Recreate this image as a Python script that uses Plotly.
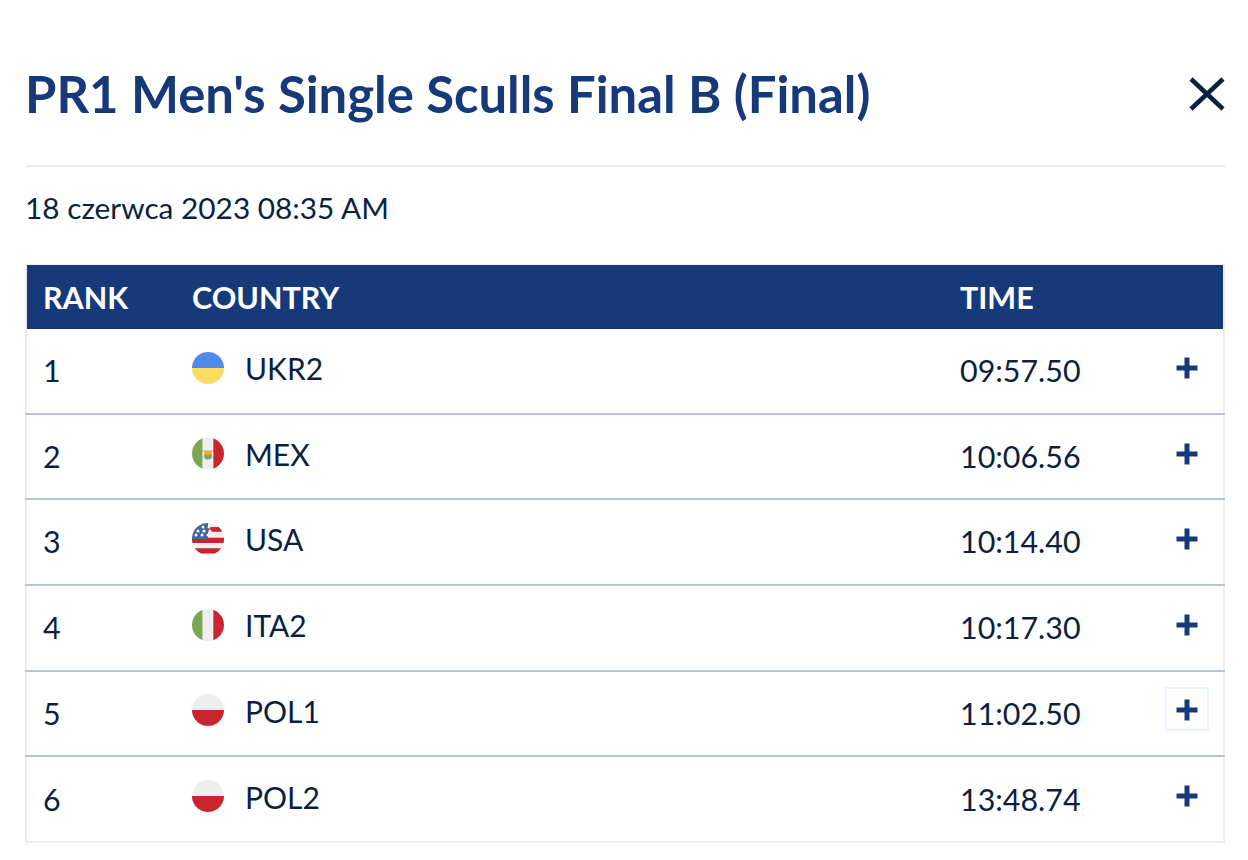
import numpy as np
import plotly.graph_objects as go

TITLE = "PR1 Men's Single Sculls Final B (Final)"
DATE = "18 czerwca 2023 08:35 AM"
HEADERS = ["RANK", "COUNTRY", "TIME"]
ranks = ["1", "2", "3", "4", "5", "6"]
countries = ["UKR2", "MEX", "USA", "ITA2", "POL1", "POL2"]
times = ["09:57.50", "10:06.56", "10:14.40", "10:17.30", "11:02.50", "13:48.74"]

NAVY = "#16397a"
INK = "#0b1f42"
RED = "#c9252f"
PALE = "#eeeeee"
GREEN = "#7ba653"
BLUE = "#4f8aea"
YELLOW = "#fbdc63"

W, H = 1248, 860
row_bottoms = [414, 499, 585, 671, 756, 841]
flag_ys = [368, 453.5, 539, 625, 710, 796]
text_ys = [374, 460, 545, 631, 717, 803]
country_ys = [372, 458, 543, 629, 715, 801]
plus_ys = [368, 454, 539, 625, 710, 796]
FX, FR = 208, 16


def poly(xs, ys):
    return "M" + "L".join(f"{a:.2f},{b:.2f}" for a, b in zip(xs, ys)) + "Z"


def hband(cy, a, b, x_max=None):
    """Part of the flag disc between relative heights a and b (-1..1)."""
    t = np.linspace(a, b, 30)
    half = np.sqrt(np.clip(1 - t ** 2, 0, 1)) * FR
    left = FX - half
    right = FX + half
    if x_max is not None:
        right = np.minimum(right, x_max)
    xs = np.concatenate([left, right[::-1]])
    ys = np.concatenate([cy + t * FR, cy + t[::-1] * FR])
    return poly(xs, ys)


def vband(cy, a, b):
    t = np.linspace(a, b, 30)
    half = np.sqrt(np.clip(1 - t ** 2, 0, 1)) * FR
    xs = np.concatenate([FX + t * FR, FX + t[::-1] * FR])
    ys = np.concatenate([cy - half, cy + half[::-1]])
    return poly(xs, ys)


def fill(path, color):
    return dict(type="path", path=path, fillcolor=color, line_width=0, layer="below")


def flag(code, cy):
    out = []
    if code.startswith("UKR"):
        out += [fill(hband(cy, -1, 0), BLUE), fill(hband(cy, 0, 1), YELLOW)]
    elif code.startswith("POL"):
        out += [fill(hband(cy, -1, 0), PALE), fill(hband(cy, 0, 1), RED)]
    elif code.startswith("ITA") or code.startswith("MEX"):
        out += [fill(vband(cy, -1, -1 / 3), GREEN), fill(vband(cy, -1 / 3, 1 / 3), PALE), fill(vband(cy, 1 / 3, 1), RED)]
        if code.startswith("MEX"):
            out.append(dict(type="circle", x0=FX - 4, x1=FX + 4, y0=cy - 1, y1=cy + 6,
                            fillcolor=GREEN, line_width=0, layer="below"))
            out.append(fill(poly([FX - 5, FX + 5, FX + 3, FX, FX - 3], [cy - 3, cy - 3, cy + 1, cy + 2, cy + 1]), "#f0a63c"))
    elif code.startswith("USA"):
        out.append(fill(hband(cy, -1, 1), PALE))
        edges = [-0.75, -0.45, -0.08, 0.25, 0.58, 0.9]
        for i in range(0, 5, 2):
            out.append(fill(hband(cy, edges[i], edges[i + 1]), RED))
        out.append(fill(hband(cy, -1, 0.0, x_max=FX), "#41639f"))
    return out


shapes = [
    dict(type="line", x0=26, x1=1225, y0=166, y1=166, line=dict(color="#e6e9ef", width=2), layer="below"),
    dict(type="rect", x0=26, x1=1224, y0=265, y1=842, line=dict(color="#eeeeee", width=2), fillcolor="white", layer="below"),
    dict(type="rect", x0=27, x1=1223, y0=265, y1=329, line_width=0, fillcolor=NAVY, layer="below"),
    dict(type="line", x0=1191, x1=1223, y0=79, y1=109, line=dict(color=INK, width=4.5), layer="below"),
    dict(type="line", x0=1191, x1=1223, y0=109, y1=79, line=dict(color=INK, width=4.5), layer="below"),
    dict(type="rect", x0=1166, x1=1208, y0=688, y1=730, line=dict(color="#e8f3fb", width=2), fillcolor="rgba(0,0,0,0)", layer="below"),
]
for b in row_bottoms[:-1]:
    shapes.append(dict(type="line", x0=25, x1=1225, y0=b, y1=b, line=dict(color="#b8c4d9", width=2), layer="below"))
for code, cy in zip(countries, flag_ys):
    shapes += flag(code, cy)

star_x, star_y = [], []
ucy = flag_ys[countries.index("USA")]
for dy, offs in [(-12, (-4, 2)), (-8, (-9, -3, 3)), (-4, (-11, -5, 1)), ]:
    for dx in offs:
        star_x.append(FX + dx - 1)
        star_y.append(ucy + dy)

fig = go.Figure()


def add_text(xs, ys, labels, size, color, weight=400):
    fig.add_trace(go.Scatter(
        x=xs, y=ys, text=labels, mode="text", textposition="middle right",
        textfont=dict(family="Lato", size=size, color=color, weight=weight),
        hoverinfo="skip", cliponaxis=False, showlegend=False,
    ))


add_text([25], [212], [DATE], 29.8, INK)
add_text([43, 192, 960], [301] * 3, HEADERS, 30.5, "white", 700)
add_text([43] * 6, text_ys, ranks, 30.4, INK)
add_text([245] * 6, country_ys, countries, 30, INK)
add_text([960] * 6, text_ys, times, 30.4, INK)

fig.add_trace(go.Scatter(
    x=[1187] * 6, y=plus_ys, mode="markers",
    marker=dict(symbol="cross-thin", size=15, line=dict(color=NAVY, width=5)),
    hoverinfo="skip", showlegend=False,
))
fig.add_trace(go.Scatter(
    x=star_x, y=star_y, mode="markers",
    marker=dict(symbol="circle", size=3, color="white", line_width=0),
    hoverinfo="skip", showlegend=False,
))

fig.update_layout(
    width=W, height=H, margin=dict(l=0, r=0, t=0, b=0),
    paper_bgcolor="white", plot_bgcolor="white",
    title=dict(text=TITLE, x=25 / W, xanchor="left", y=1 - 95 / H, yanchor="middle",
               font=dict(family="Lato", size=50.8, color=NAVY, weight=700)),
    xaxis=dict(range=[0, W], visible=False, fixedrange=True),
    yaxis=dict(range=[H, 0], visible=False, fixedrange=True),
    shapes=shapes,
)
fig.write_html("out.html", config=dict(displayModeBar=False),
               post_script="document.body.style.margin='0';")
